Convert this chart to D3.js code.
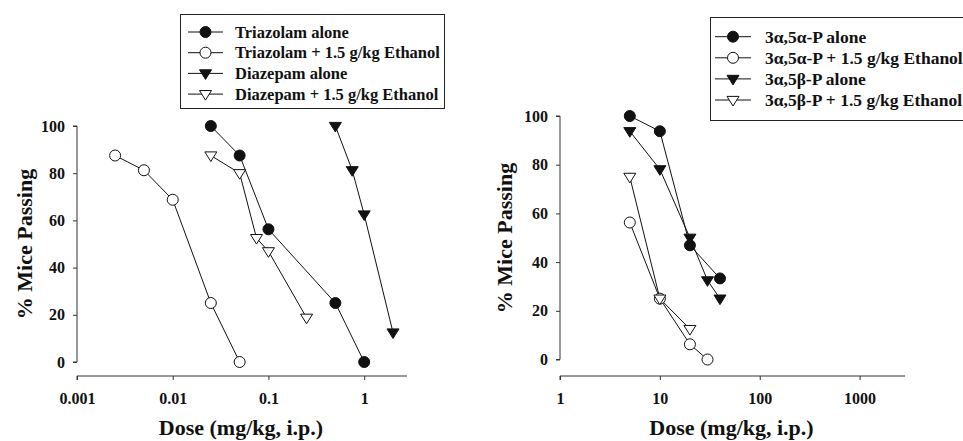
<!DOCTYPE html>
<html>
<head>
<meta charset="utf-8">
<script src="https://cdn.jsdelivr.net/npm/d3@7"></script>
<style>
  body { margin: 0; background: #fff; }
  svg text { font-family: "Liberation Serif", "Times New Roman", serif; font-weight: bold; fill: #111; }
</style>
</head>
<body>
<div id="chart"></div>
<script>
// left panel: triazolam / diazepam
var triazolamAloneDose = [0.025, 0.05, 0.1, 0.5, 1];
var triazolamAlonePct = [100, 87.5, 56.25, 25, 0];
var triazolamEtohDose = [0.0025, 0.005, 0.01, 0.025, 0.05];
var triazolamEtohPct = [87.5, 81.25, 68.75, 25, 0];
var diazepamAloneDose = [0.5, 0.75, 1, 2];
var diazepamAlonePct = [100, 81.25, 62.5, 12.5];
var diazepamEtohDose = [0.025, 0.05, 0.075, 0.1, 0.25];
var diazepamEtohPct = [87.5, 80, 52.5, 46.9, 18.75];

// right panel: neurosteroids
var aaAloneDose = [5, 10, 20, 40];
var aaAlonePct = [100, 93.75, 46.9, 33.3];
var aaEtohDose = [5, 10, 20, 30];
var aaEtohPct = [56.25, 25, 6.25, 0];
var abAloneDose = [5, 10, 20, 30, 40];
var abAlonePct = [93.75, 78.1, 50, 32.5, 25];
var abEtohDose = [5, 10, 20];
var abEtohPct = [75, 25, 12.5];

var leftLabels = ["Triazolam alone", "Triazolam + 1.5 g/kg Ethanol", "Diazepam alone", "Diazepam + 1.5 g/kg Ethanol"];
var rightLabels = ["3\u03b1,5\u03b1-P alone", "3\u03b1,5\u03b1-P + 1.5 g/kg Ethanol", "3\u03b1,5\u03b2-P alone", "3\u03b1,5\u03b2-P + 1.5 g/kg Ethanol"];
var leftTicks = [0.001, 0.01, 0.1, 1];
var rightTicks = [1, 10, 100, 1000];
var yTicks = [0, 20, 40, 60, 80, 100];

var svgWidth = 963, svgHeight = 441;
var svg = d3.select("#chart").append("svg")
    .attr("width", svgWidth)
    .attr("height", svgHeight);

var markerKinds = ["dotFilled", "dotOpen", "triFilled", "triOpen"];

function drawMarker(g, kind, x, y) {
    if (kind === "dotFilled" || kind === "dotOpen") {
        g.append("circle")
            .attr("cx", x).attr("cy", y).attr("r", 5.5)
            .attr("fill", kind === "dotFilled" ? "#111" : "#fff")
            .attr("stroke", "#111").attr("stroke-width", 1);
    } else {
        var s = 6;
        g.append("path")
            .attr("d", `M${x - s},${y - s * 0.6}L${x + s},${y - s * 0.6}L${x},${y + s * 1.0}Z`)
            .attr("fill", kind === "triFilled" ? "#111" : "#fff")
            .attr("stroke", "#111").attr("stroke-width", 1);
    }
}

function drawPanel(p) {
    var g = svg.append("g");
    var x = d3.scaleLog().domain(p.xDomain).range([p.left, p.right]);
    var y = d3.scaleLinear().domain([0, 100]).range([p.y0, p.y100]);

    // y axis
    var yAxis = d3.axisLeft(y).tickValues(yTicks).tickSize(4).tickPadding(8);
    var ya = g.append("g").attr("transform", `translate(${p.left},0)`).call(yAxis);
    ya.select(".domain").attr("d", `M-4,${p.y100}H0V${p.y0}H-4`).attr("stroke", "#333");
    ya.selectAll(".tick line").attr("stroke", "#333");
    ya.selectAll("text").style("font-size", "16px").attr("fill", "#111");

    // x axis
    var xAxis = d3.axisBottom(x).tickValues(p.ticks).tickFormat(d3.format("~g")).tickSize(4);
    var xa = g.append("g").attr("transform", `translate(0,${p.xAxisY})`).call(xAxis);
    xa.select(".domain").attr("d", `M${p.left},4V0H${p.right}`).attr("stroke", "#333");
    xa.selectAll(".tick line").attr("stroke", "#333");
    xa.selectAll("text").style("font-size", "16px").attr("fill", "#111")
        .attr("y", 28).attr("dy", null);

    g.append("text")
        .attr("x", (p.left + p.right) / 2 - 1)
        .attr("y", 435)
        .attr("text-anchor", "middle")
        .style("font-size", "22px")
        .text("Dose (mg/kg, i.p.)");

    g.append("text")
        .attr("transform", `translate(${p.yTitleX}, ${p.yTitleY}) rotate(-90)`)
        .attr("text-anchor", "middle")
        .style("font-size", "22px")
        .text("% Mice Passing");

    var line = d3.line().x(d => x(d[0])).y(d => y(d[1]));
    p.series.forEach(function (s) {
        g.append("path").datum(d3.zip(s.dose, s.pct))
            .attr("d", line)
            .attr("fill", "none")
            .attr("stroke", "#111")
            .attr("stroke-width", 1);
    });
    p.series.forEach(function (s, i) {
        d3.zip(s.dose, s.pct).forEach(function (d) {
            drawMarker(g, markerKinds[i], x(d[0]), y(d[1]));
        });
    });

    // legend
    var lg = g.append("g");
    lg.append("rect")
        .attr("x", p.legend.x).attr("y", p.legend.y)
        .attr("width", p.legend.w).attr("height", p.legend.h)
        .attr("fill", "#fff").attr("stroke", "#222").attr("stroke-width", 1);
    p.labels.forEach(function (lab, i) {
        var ly = p.legend.rowY + i * p.legend.step;
        lg.append("line")
            .attr("x1", p.legend.lineX1).attr("x2", p.legend.lineX2)
            .attr("y1", ly).attr("y2", ly)
            .attr("stroke", "#111").attr("stroke-width", 1);
        drawMarker(lg, markerKinds[i], (p.legend.lineX1 + p.legend.lineX2) / 2, ly);
        lg.append("text")
            .attr("x", p.legend.textX).attr("y", ly)
            .attr("dy", "0.35em")
            .style("font-size", p.legend.font)
            .text(lab);
    });
}

drawPanel({
    xDomain: [0.001, 2.8], ticks: leftTicks,
    left: 77, right: 407, y0: 362, y100: 126, xAxisY: 376,
    yTitleX: 32, yTitleY: 244,
    labels: leftLabels,
    series: [
        { dose: triazolamAloneDose, pct: triazolamAlonePct },
        { dose: triazolamEtohDose, pct: triazolamEtohPct },
        { dose: diazepamAloneDose, pct: diazepamAlonePct },
        { dose: diazepamEtohDose, pct: diazepamEtohPct }
    ],
    legend: { x: 180.5, y: 14.5, w: 264, h: 94, rowY: 32, step: 20.7, lineX1: 188, lineX2: 223, textX: 235, font: "16.5px" }
});

drawPanel({
    xDomain: [1, 2850], ticks: rightTicks,
    left: 560, right: 905, y0: 359.5, y100: 116, xAxisY: 376,
    yTitleX: 512, yTitleY: 238,
    labels: rightLabels,
    series: [
        { dose: aaAloneDose, pct: aaAlonePct },
        { dose: aaEtohDose, pct: aaEtohPct },
        { dose: abAloneDose, pct: abAlonePct },
        { dose: abEtohDose, pct: abEtohPct }
    ],
    legend: { x: 710.5, y: 17.5, w: 280, h: 103, rowY: 36.7, step: 21.1, lineX1: 715, lineX2: 751, textX: 765, font: "17.5px" }
});
</script>
</body>
</html>
